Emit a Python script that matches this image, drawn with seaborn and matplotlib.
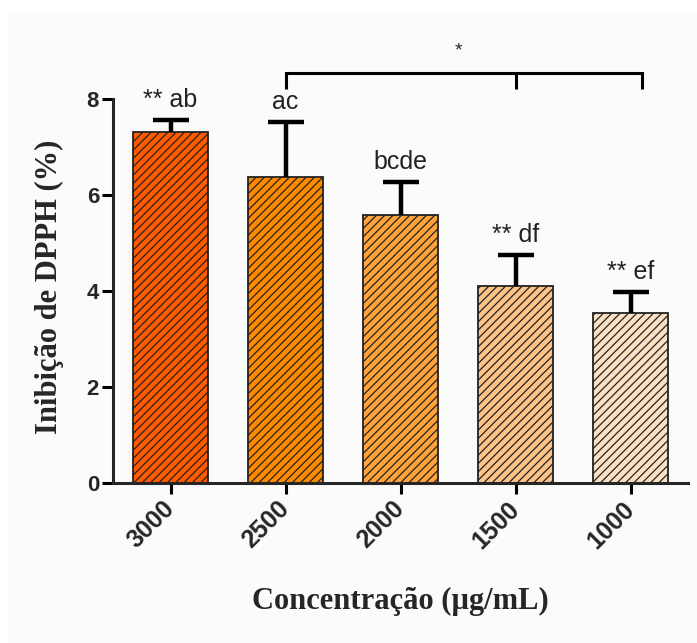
import matplotlib
matplotlib.use("Agg")
import matplotlib.pyplot as plt
import seaborn as sns
from matplotlib.patches import Rectangle

# Data
concentrations = ["3000", "2500", "2000", "1500", "1000"]
inhibition = [7.31, 6.38, 5.58, 4.10, 3.54]
sd = [0.25, 1.14, 0.69, 0.65, 0.44]
letters = ["** ab", "ac", "bcde", "** df", "** ef"]
bar_colors = ["#FF5A00", "#FF8A00", "#FFA43C", "#FDC488", "#FCE0C4"]
y_ticks = [0, 2, 4, 6, 8]

sns.set_style("ticks")
plt.rcParams["hatch.linewidth"] = 0.9

fig = plt.figure(figsize=(6.97, 6.43), dpi=100, facecolor="white")
fig.patches.append(Rectangle((8 / 697, 0), 1, 1 - 11 / 643, transform=fig.transFigure,
                             facecolor="#FBFBFB", edgecolor="none", zorder=-10))
ax = fig.add_axes([113 / 697, 1 - 483 / 643, 575 / 697, (483 - 41.4) / 643])
ax.set_facecolor("none")

sns.barplot(x=concentrations, y=inhibition, hue=concentrations, order=concentrations,
            palette=bar_colors, saturation=1, width=0.66, edgecolor="#222222",
            linewidth=1.3, legend=False, errorbar=None, ax=ax, zorder=2)
for p in ax.patches:
    p.set_hatch("////")

# Upward-only error bars (mean + SD)
_, caps, _ = ax.errorbar(range(len(inhibition)), inhibition, yerr=[[0] * len(sd), sd],
                         fmt="none", ecolor="black", elinewidth=3.2, capsize=13,
                         capthick=3.2, zorder=3)
caps[0].set_visible(False)

# Group letters above the error bars
for i, (m, s, lab) in enumerate(zip(inhibition, sd, letters)):
    ax.annotate(lab, (i, m + s), xytext=(0, 6), textcoords="offset points",
                ha="center", va="bottom", fontsize=18, family="Liberation Sans",
                color="#222222")

# Significance bracket
lw_b = 2.2
ax.plot([1, 1, 4.1, 4.1], [8.21, 8.54, 8.54, 8.21], color="black", lw=lw_b,
        clip_on=False, solid_capstyle="butt", solid_joinstyle="miter")
ax.plot([3, 3], [8.54, 8.21], color="black", lw=lw_b, clip_on=False, solid_capstyle="butt")
ax.text(2.5, 9.0, "*", ha="center", va="center", fontsize=14, family="Liberation Sans")

ax.set_xlim(-0.5, 4.5)
ax.set_ylim(0, 9.2)
ax.set_yticks(y_ticks)
ax.spines["top"].set_visible(False)
ax.spines["right"].set_visible(False)
ax.spines["left"].set_bounds(0, 8)
for sp in ("left", "bottom"):
    ax.spines[sp].set_linewidth(2.2)

ax.tick_params(axis="both", length=8, width=2.2, color="black")
ax.tick_params(axis="y", pad=2)
ax.tick_params(axis="x", pad=8)
for t in ax.get_yticklabels():
    t.set_fontfamily("Liberation Sans")
    t.set_fontweight("bold")
    t.set_fontsize(16)
for t in ax.get_xticklabels():
    t.set_fontfamily("Liberation Sans")
    t.set_fontweight("bold")
    t.set_fontsize(18)
    t.set_rotation(45)
    t.set_ha("right")
    t.set_va("center")
    t.set_rotation_mode("anchor")

ax.set_xlabel("Concentração (µg/mL)", fontsize=22, fontweight="bold",
              family="Liberation Serif")
ax.set_ylabel("Inibição de DPPH (%)", fontsize=22, fontweight="bold",
              family="Liberation Serif")
ax.xaxis.set_label_coords(0.5, -0.235)
ax.yaxis.set_label_coords(-0.085, 0.445)

fig.savefig("out.png", dpi=100, facecolor=fig.get_facecolor())
